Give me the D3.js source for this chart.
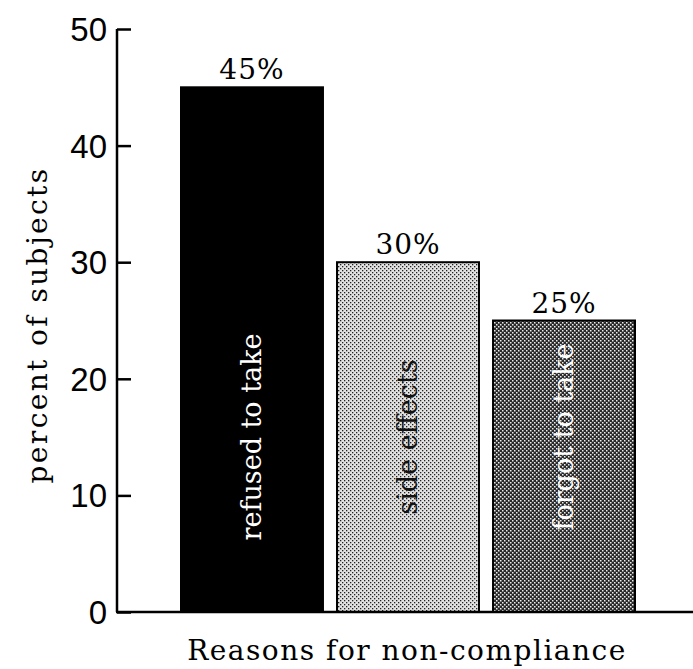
<!DOCTYPE html>
<html><head><meta charset="utf-8">
<script src="https://cdn.jsdelivr.net/npm/d3@7"></script>
<style>body{margin:0;background:#fff}</style>
</head><body>
<script>
const categories = ["refused to take", "side effects", "forgot to take"];
const values = [45, 30, 25];
const valueLabels = ["45%", "30%", "25%"];
const yTicks = [0, 10, 20, 30, 40, 50];
const xTitle = "Reasons for non-compliance";
const yTitle = "percent of subjects";

const W = 693, H = 669;
const svg = d3.select("body").append("svg").attr("width", W).attr("height", H);
const defs = svg.append("defs");
// light dotted
const p1 = defs.append("pattern").attr("id","light").attr("width",4).attr("height",4).attr("patternUnits","userSpaceOnUse");
p1.append("rect").attr("width",4).attr("height",4).attr("fill","#e2e2e2");
p1.append("rect").attr("x",0).attr("y",0).attr("width",1.3).attr("height",1.3).attr("fill","#222");
p1.append("rect").attr("x",2).attr("y",2).attr("width",1.3).attr("height",1.3).attr("fill","#222");
// dark dotted
const p2 = defs.append("pattern").attr("id","dark").attr("width",4).attr("height",4).attr("patternUnits","userSpaceOnUse");
p2.append("rect").attr("width",4).attr("height",4).attr("fill","#2a2a2a");
p2.append("rect").attr("x",0).attr("y",0).attr("width",1.5).attr("height",1.5).attr("fill","#eee");
p2.append("rect").attr("x",2).attr("y",2).attr("width",1.5).attr("height",1.5).attr("fill","#eee");

const fills = ["#000", "url(#light)", "url(#dark)"];
const textColors = ["#fff", "#111", "#fff"];

const y = d3.scaleLinear().domain([0, 50]).range([612, 29]);
const x = d3.scaleBand().domain(categories).range([181, 635]).paddingInner(0.09).paddingOuter(0);

// bars
svg.selectAll("rect.bar").data(categories).enter().append("rect")
  .attr("class","bar")
  .attr("x", d => x(d)).attr("width", x.bandwidth())
  .attr("y", (d,i) => y(values[i])).attr("height", (d,i) => y(0) - y(values[i]))
  .attr("fill", (d,i) => fills[i])
  .attr("stroke", "#000").attr("stroke-width", 2);

// inside labels
svg.selectAll("text.inner").data(categories).enter().append("text")
  .attr("transform", (d,i) => `translate(${x(d) + x.bandwidth()/2 + 9},${y(0) - 175}) rotate(-90)`)
  .attr("text-anchor","middle")
  .attr("font-family","DejaVu Serif, serif").attr("font-size", 27)
  .attr("fill", (d,i) => textColors[i])
  .text(d => d);

// value labels
svg.selectAll("text.val").data(categories).enter().append("text")
  .attr("x", d => x(d) + x.bandwidth()/2).attr("y", (d,i) => y(values[i]) - 8)
  .attr("text-anchor","middle")
  .attr("font-family","DejaVu Serif, serif").attr("font-size", 28)
  .attr("letter-spacing", 1)
  .attr("fill","#000")
  .text((d,i) => valueLabels[i]);

// y axis
const axis = d3.axisRight(y).tickValues(yTicks).tickSize(14).tickFormat("");
const g = svg.append("g").attr("transform","translate(117,0)").call(axis);
g.select(".domain").attr("stroke","#000").attr("stroke-width",2.5).attr("d", `M0,${y(50)}V${y(0)}`);
g.selectAll(".tick line").attr("stroke","#000").attr("stroke-width",2.5);
svg.selectAll("text.ytick").data(yTicks).enter().append("text")
  .attr("x", 107).attr("y", d => y(d) + 12)
  .attr("text-anchor","end")
  .attr("font-family","Liberation Sans, Arial, sans-serif").attr("font-size", 33)
  .text(d => d);

// baseline
svg.append("line").attr("x1",116).attr("x2",693).attr("y1",y(0)).attr("y2",y(0))
  .attr("stroke","#000").attr("stroke-width",2.5);

// titles
svg.append("text").attr("transform","translate(47,325) rotate(-90)")
  .attr("text-anchor","middle").attr("font-family","DejaVu Serif, serif").attr("font-size",28)
  .attr("letter-spacing", 2.4)
  .text(yTitle);
svg.append("text").attr("x",407).attr("y",660)
  .attr("text-anchor","middle").attr("font-family","DejaVu Serif, serif").attr("font-size",28)
  .attr("letter-spacing", 1.5)
  .text(xTitle);
</script>
</body></html>
